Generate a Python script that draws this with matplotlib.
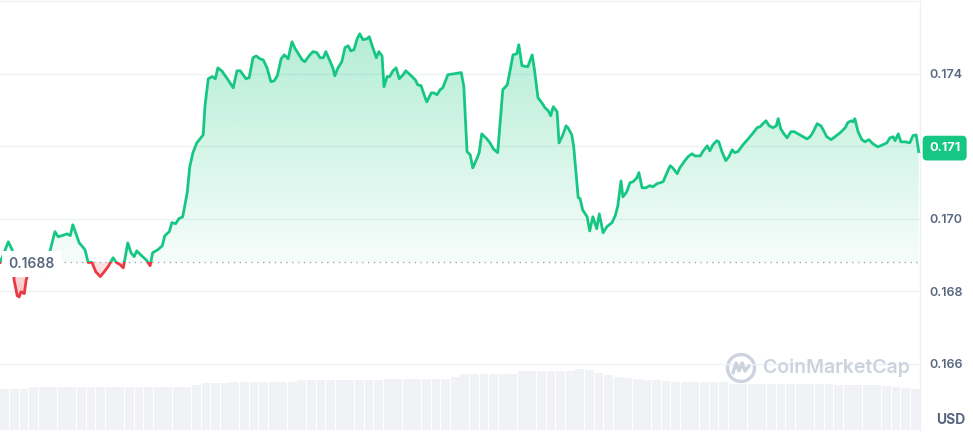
import math
import numpy as np
import matplotlib
matplotlib.use("Agg")
import matplotlib.pyplot as plt
from matplotlib.patches import Rectangle, PathPatch, Circle
from matplotlib.path import Path

plt.rcParams['font.family'] = ['Inter', 'DejaVu Sans']

# 24h window, minutes since start
minutes = [0, 5, 13, 19, 22, 27, 30, 33, 38, 41, 47, 53, 59, 66, 72, 78, 86, 91, 97, 105,
           110, 114, 124, 128, 133, 138, 144, 150, 157, 163, 169, 177, 182, 188, 193, 200, 205, 210, 214, 222,
           229, 235, 239, 247, 254, 258, 265, 269, 275, 280, 286, 293, 297, 302, 308, 313, 318, 321, 326, 332,
           337, 341, 347, 357, 365, 371, 376, 385, 390, 396, 401, 407, 412, 418, 424, 429, 434, 440, 445, 451,
           457, 462, 466, 473, 477, 485, 490, 496, 501, 506, 510, 515, 521, 524, 529, 535, 540, 545, 549, 554,
           559, 563, 568, 574, 578, 582, 589, 593, 598, 601, 606, 610, 615, 620, 625, 631, 635, 642, 650, 654,
           659, 665, 668, 675, 679, 684, 689, 693, 701, 712, 722, 726, 731, 736, 740, 747, 750, 754, 762, 767,
           772, 779, 787, 794, 798, 803, 809, 812, 817, 826, 833, 837, 842, 848, 853, 858, 862, 866, 872, 875,
           881, 886, 889, 895, 898, 905, 908, 912, 919, 923, 928, 934, 938, 944, 950, 958, 963, 967, 972, 975,
           981, 986, 991, 997, 1000, 1005, 1011, 1017, 1022, 1028, 1033, 1038, 1044, 1049, 1053, 1060, 1064, 1072, 1077, 1083,
           1088, 1096, 1100, 1107, 1111, 1116, 1122, 1125, 1130, 1136, 1141, 1146, 1150, 1155, 1163, 1171, 1179, 1185, 1190, 1194,
           1199, 1204, 1210, 1215, 1218, 1222, 1227, 1232, 1238, 1243, 1249, 1257, 1263, 1268, 1273, 1279, 1285, 1290, 1294, 1301,
           1307, 1315, 1323, 1327, 1332, 1335, 1338, 1343, 1349, 1354, 1360, 1366, 1374, 1382, 1388, 1393, 1398, 1401, 1406, 1410,
           1417, 1424, 1429, 1434, 1438]

price = [0.16879, 0.16900, 0.16936, 0.16914, 0.16831, 0.16787, 0.16784, 0.16798, 0.16793, 0.16831,
         0.16864, 0.16881, 0.16853, 0.16842, 0.16873, 0.16909, 0.16964, 0.16950, 0.16953, 0.16958,
         0.16953, 0.16983, 0.16933, 0.16925, 0.16914, 0.16879, 0.16879, 0.16853, 0.16840, 0.16853,
         0.16867, 0.16892, 0.16879, 0.16873, 0.16864, 0.16933, 0.16906, 0.16895, 0.16911, 0.16897,
         0.16886, 0.16870, 0.16906, 0.16914, 0.16925, 0.16953, 0.16964, 0.16989, 0.16986, 0.17000,
         0.17005, 0.17071, 0.17143, 0.17182, 0.17209, 0.17220, 0.17231, 0.17314, 0.17386, 0.17392,
         0.17386, 0.17416, 0.17408, 0.17383, 0.17361, 0.17408, 0.17408, 0.17386, 0.17389, 0.17444,
         0.17449, 0.17441, 0.17438, 0.17416, 0.17378, 0.17380, 0.17394, 0.17441, 0.17452, 0.17441,
         0.17488, 0.17469, 0.17458, 0.17438, 0.17433, 0.17452, 0.17461, 0.17458, 0.17444, 0.17444,
         0.17461, 0.17441, 0.17416, 0.17394, 0.17416, 0.17433, 0.17472, 0.17477, 0.17463, 0.17466,
         0.17496, 0.17510, 0.17494, 0.17496, 0.17502, 0.17480, 0.17444, 0.17461, 0.17449, 0.17364,
         0.17392, 0.17392, 0.17408, 0.17416, 0.17386, 0.17397, 0.17408, 0.17397, 0.17383, 0.17369,
         0.17367, 0.17336, 0.17322, 0.17347, 0.17347, 0.17342, 0.17356, 0.17361, 0.17397, 0.17400,
         0.17403, 0.17364, 0.17185, 0.17176, 0.17140, 0.17168, 0.17182, 0.17234, 0.17220, 0.17209,
         0.17193, 0.17182, 0.17356, 0.17369, 0.17405, 0.17452, 0.17455, 0.17480, 0.17422, 0.17419,
         0.17452, 0.17405, 0.17334, 0.17320, 0.17306, 0.17298, 0.17284, 0.17309, 0.17295, 0.17209,
         0.17231, 0.17256, 0.17251, 0.17231, 0.17198, 0.17058, 0.17055, 0.17024, 0.17005, 0.16966,
         0.17005, 0.16972, 0.17013, 0.16961, 0.16978, 0.16989, 0.17008, 0.17035, 0.17104, 0.17060,
         0.17074, 0.17099, 0.17102, 0.17113, 0.17127, 0.17085, 0.17085, 0.17091, 0.17088, 0.17096,
         0.17099, 0.17102, 0.17127, 0.17146, 0.17140, 0.17124, 0.17140, 0.17160, 0.17171, 0.17179,
         0.17173, 0.17173, 0.17185, 0.17201, 0.17187, 0.17204, 0.17215, 0.17212, 0.17185, 0.17160,
         0.17171, 0.17190, 0.17182, 0.17185, 0.17204, 0.17220, 0.17237, 0.17251, 0.17254, 0.17262,
         0.17270, 0.17256, 0.17251, 0.17256, 0.17276, 0.17248, 0.17234, 0.17223, 0.17240, 0.17240,
         0.17234, 0.17226, 0.17220, 0.17226, 0.17240, 0.17262, 0.17256, 0.17240, 0.17226, 0.17218,
         0.17226, 0.17237, 0.17251, 0.17265, 0.17270, 0.17267, 0.17276, 0.17240, 0.17218, 0.17212,
         0.17218, 0.17207, 0.17198, 0.17204, 0.17209, 0.17223, 0.17226, 0.17215, 0.17234, 0.17212,
         0.17212, 0.17209, 0.17229, 0.17231, 0.17185]

base_price = 0.1688  # price at window open

# 15-minute volume buckets (arbitrary units)
vol = [4.1, 4.1, 4.1, 4.3, 4.3, 4.3, 4.3, 4.3, 4.3, 4.3, 4.3, 4.3, 4.3, 4.3, 4.3, 4.3,
       4.3, 4.3, 4.3, 4.3, 4.5, 4.7, 4.7, 4.7, 4.8, 4.8, 4.8, 4.8, 4.8, 4.8, 4.8, 5.0,
       5.0, 5.0, 5.0, 5.0, 5.0, 5.0, 5.0, 5.0, 5.1, 5.1, 5.1, 5.1, 5.1, 5.1, 5.1, 5.3,
       5.6, 5.6, 5.6, 5.6, 5.6, 5.6, 5.9, 5.9, 5.9, 5.9, 5.9, 5.9, 6.1, 6.0, 5.7, 5.5,
       5.3, 5.2, 5.1, 5.0, 5.0, 4.9, 4.8, 4.8, 4.8, 4.8, 4.8, 4.8, 4.6, 4.6, 4.6, 4.6,
       4.6, 4.6, 4.6, 4.6, 4.6, 4.6, 4.6, 4.5, 4.5, 4.5, 4.5, 4.5, 4.4, 4.3, 4.2, 4.1]

y_ticks = [0.166, 0.168, 0.170, 0.172, 0.174]
y_labels = ['0.166', '0.168', '0.170', '', '0.174']

GREEN = '#16c784'
RED = '#ea3943'
GREY = '#58667e'
GRID = '#eff2f5'

t = np.array(minutes, dtype=float)
p = np.array(price)

fig = plt.figure(figsize=(9.73, 4.32), dpi=100)
rect = [0, 0.005, 920 / 973, 0.993]

# volume bars underneath
vax = fig.add_axes(rect)
vax.bar(np.arange(len(vol)) * 15 + 7.5, vol, width=15 * 0.93, color='#f0f2f5', linewidth=0)
vax.set_xlim(0, 1440)
vax.set_ylim(0, 42.9)
vax.axis('off')

ax = fig.add_axes(rect, sharex=vax)
ax.set_zorder(2)
ax.patch.set_visible(False)
ax.set_xlim(0, 1440)
ax.set_ylim(0.16417, 0.17601)

ax.set_yticks(y_ticks)
ax.set_yticklabels(y_labels)
ax.yaxis.tick_right()
ax.tick_params(axis='y', length=0, pad=6.5, labelsize=9, labelcolor=GREY)
for lab in ax.get_yticklabels():
    lab.set_fontweight('semibold')
ax.tick_params(axis='x', bottom=False, labelbottom=False)
ax.grid(axis='y', color=GRID, linewidth=1)
ax.set_axisbelow(True)
for side in ['left', 'bottom']:
    ax.spines[side].set_visible(False)
for side in ['top', 'right']:
    ax.spines[side].set_color(GRID)
    ax.spines[side].set_linewidth(1)

# gradient fill between price and the opening price
poly = ax.fill_between(t, p, base_price, color='none', linewidth=0)
clip_path = Path.make_compound_path(*poly.get_paths())
clip_patch = PathPatch(clip_path, transform=ax.transData, facecolor='none', edgecolor='none')
ax.add_patch(clip_patch)

def gradient(rgb, a_low, a_high):
    img = np.zeros((256, 1, 4))
    img[:, :, :3] = matplotlib.colors.to_rgb(rgb)
    img[:, 0, 3] = np.linspace(a_low, a_high, 256)
    return img

im_up = ax.imshow(gradient(GREEN, 0.04, 0.32), origin='lower', aspect='auto',
                  extent=[t[0], t[-1], base_price, p.max()], zorder=1, interpolation='bilinear')
im_up.set_clip_path(clip_patch)
im_dn = ax.imshow(gradient(RED, 0.32, 0.12), origin='lower', aspect='auto',
                  extent=[t[0], t[-1], p.min(), base_price], zorder=1, interpolation='bilinear')
im_dn.set_clip_path(clip_patch)

# baseline
ax.axhline(base_price, color='#a1a7bb', linewidth=1, linestyle=(0, (1, 3.2)), zorder=2)

# price line, green above / red below the open
line_up, = ax.plot(t, p, color=GREEN, linewidth=2.0, zorder=3, solid_joinstyle='round')
line_dn, = ax.plot(t, p, color=RED, linewidth=2.0, zorder=3, solid_joinstyle='round')
above = Rectangle((-10, base_price), 1500, 1, transform=ax.transData)
below = Rectangle((-10, base_price - 1), 1500, 1, transform=ax.transData)
line_up.set_clip_path(above)
line_dn.set_clip_path(below)

ax.set_xlim(0, 1440)
ax.set_ylim(0.16417, 0.17601)

# opening price label
ax.annotate(f'{base_price:.4f}', xy=(0, base_price), xycoords=('axes fraction', 'data'),
            xytext=(6, -1.5), textcoords='offset points', ha='left', va='center',
            fontsize=10, color=GREY, fontweight='semibold', zorder=5,
            bbox=dict(boxstyle='square,pad=0.45', fc='white', ec='none'))

# current price tag
last_label = f'{math.floor(price[-1] * 1000) / 1000:.3f}'
ax.annotate(last_label, xy=(1, price[-1]), xycoords=('axes fraction', 'data'),
            xytext=(6.5, 2.5), textcoords='offset points', ha='left', va='center',
            fontsize=9.2, color='white', fontweight='bold', annotation_clip=False,
            bbox=dict(boxstyle='round,pad=0.5,rounding_size=0.35', fc=GREEN, ec='none'))

# watermark
wm = '#cdd3de'
fig.patches.append(Circle((7.41, 0.64), 0.135, transform=fig.dpi_scale_trans,
                          fill=False, ec=wm, lw=2.4))
fig.lines.append(plt.Line2D([7.33, 7.36, 7.39, 7.42, 7.45, 7.49],
                            [0.59, 0.69, 0.61, 0.69, 0.61, 0.66],
                            transform=fig.dpi_scale_trans, color=wm, lw=2.4,
                            solid_joinstyle='round', solid_capstyle='round'))
fig.text(763 / 973, 1 - 368 / 432, 'CoinMarketCap', ha='left', va='center',
         fontsize=14, color=wm, fontweight='semibold')

fig.text(951 / 973, 1 - 420 / 432, 'USD', ha='center', va='center',
         fontsize=10, color=GREY, fontweight='bold')

fig.savefig('out.png', dpi=100, facecolor='white')
